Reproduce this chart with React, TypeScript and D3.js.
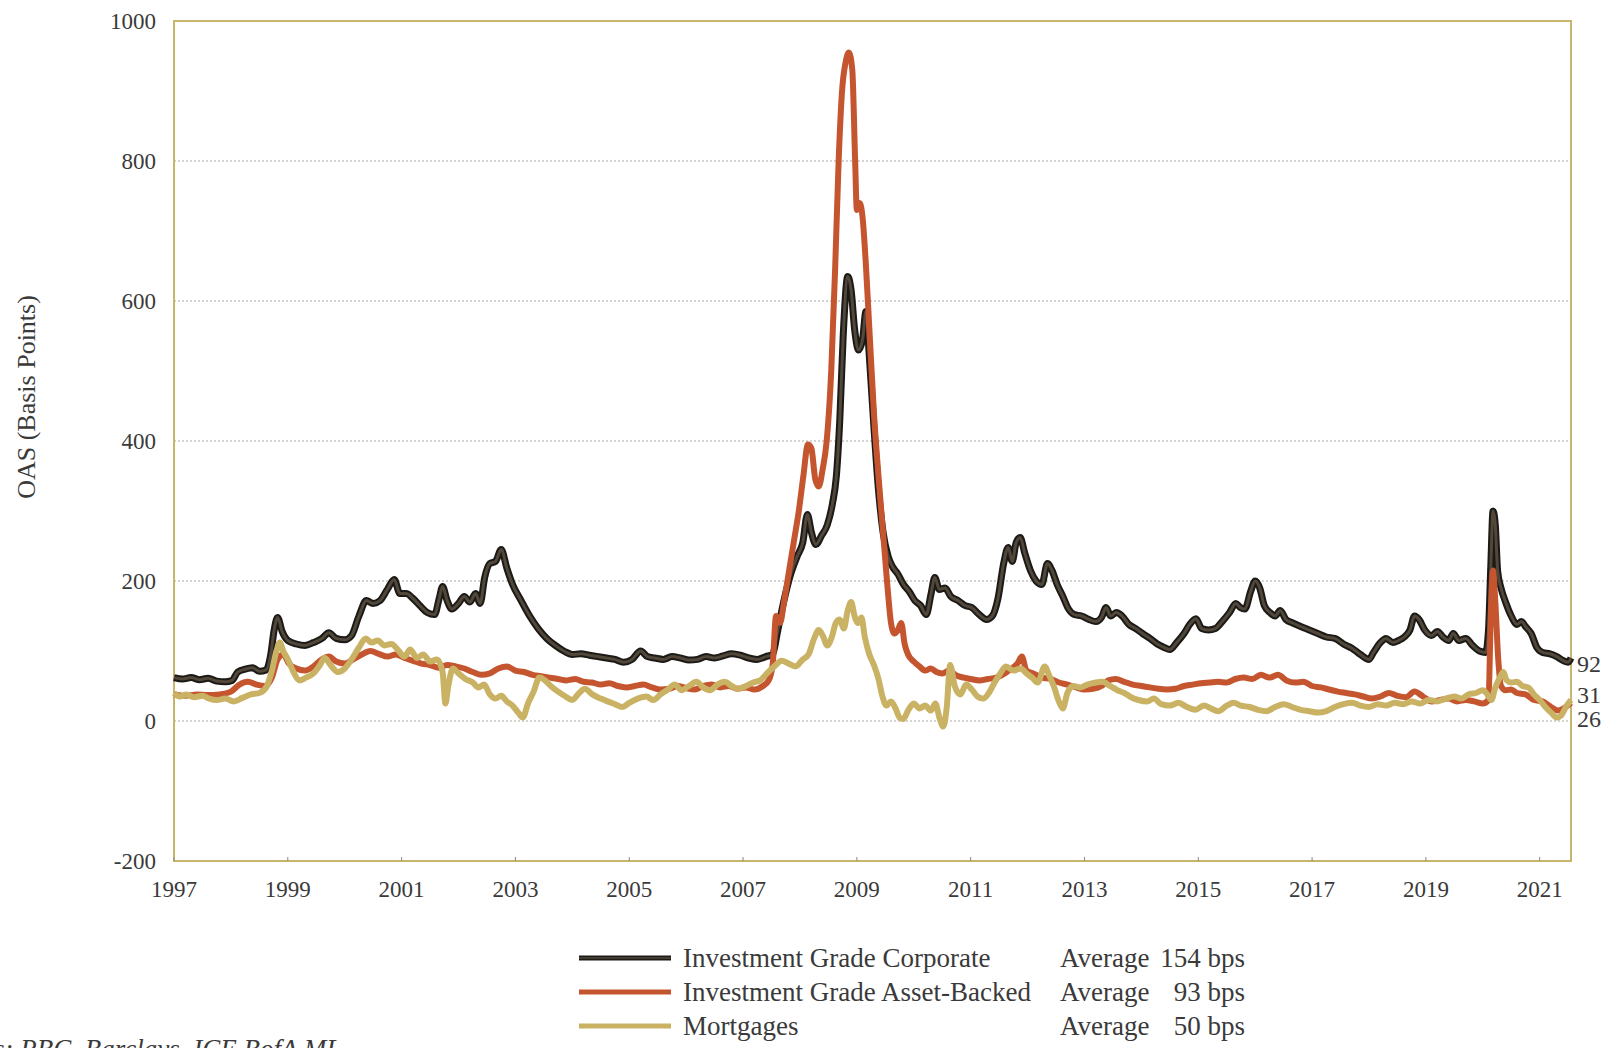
import * as d3 from 'd3';

// OAS spreads (bps), [year, value]
const corporate: [number, number][] = [
  [1997.0, 62], [1997.15, 60], [1997.3, 62], [1997.45, 59], [1997.6, 61], [1997.75, 57], [1997.9, 56],
  [1998.02, 58], [1998.12, 70], [1998.25, 74], [1998.38, 76], [1998.5, 71], [1998.62, 73], [1998.7, 95],
  [1998.76, 130], [1998.82, 148], [1998.9, 128], [1999.0, 115], [1999.15, 110], [1999.3, 108], [1999.45, 112],
  [1999.6, 118], [1999.72, 126], [1999.85, 118], [2000.0, 116], [2000.12, 122], [2000.25, 150], [2000.38, 172],
  [2000.5, 168], [2000.62, 172], [2000.75, 188], [2000.87, 202], [2000.97, 182], [2001.08, 182], [2001.2, 175],
  [2001.32, 165], [2001.45, 155], [2001.58, 152], [2001.66, 175], [2001.72, 192], [2001.8, 172], [2001.88, 160],
  [2002.0, 168], [2002.1, 178], [2002.2, 170], [2002.3, 182], [2002.38, 168], [2002.46, 205], [2002.55, 225],
  [2002.65, 228], [2002.75, 245], [2002.85, 218], [2002.95, 195], [2003.1, 172], [2003.25, 150], [2003.4, 132],
  [2003.55, 118], [2003.7, 108], [2003.85, 100], [2004.0, 95], [2004.15, 96], [2004.3, 94], [2004.45, 92],
  [2004.6, 90], [2004.75, 88], [2004.9, 84], [2005.05, 88], [2005.2, 100], [2005.32, 92], [2005.45, 90],
  [2005.6, 88], [2005.75, 92], [2005.9, 90], [2006.05, 87], [2006.2, 88], [2006.35, 92], [2006.5, 90],
  [2006.65, 93], [2006.8, 96], [2006.95, 94], [2007.1, 90], [2007.25, 88], [2007.4, 92], [2007.52, 95],
  [2007.6, 125], [2007.7, 165], [2007.82, 205], [2007.95, 235], [2008.05, 255], [2008.13, 295], [2008.2, 270],
  [2008.28, 252], [2008.38, 265], [2008.48, 280], [2008.57, 310], [2008.64, 350], [2008.7, 430], [2008.76, 550],
  [2008.84, 635], [2008.9, 615], [2008.96, 560], [2009.03, 530], [2009.1, 545], [2009.16, 585], [2009.22, 520],
  [2009.3, 420], [2009.38, 330], [2009.46, 270], [2009.55, 235], [2009.63, 220], [2009.72, 210], [2009.82, 195],
  [2009.92, 185], [2010.02, 172], [2010.12, 165], [2010.22, 152], [2010.3, 180], [2010.37, 205], [2010.45, 188],
  [2010.55, 190], [2010.65, 178], [2010.78, 172], [2010.9, 165], [2011.02, 162], [2011.15, 152], [2011.28, 145],
  [2011.38, 150], [2011.48, 175], [2011.58, 225], [2011.66, 248], [2011.73, 228], [2011.8, 255], [2011.87, 262],
  [2011.95, 240], [2012.05, 215], [2012.15, 200], [2012.25, 195], [2012.35, 225], [2012.43, 215], [2012.52, 195],
  [2012.62, 178], [2012.72, 160], [2012.82, 152], [2012.95, 150], [2013.08, 145], [2013.2, 142], [2013.3, 148],
  [2013.38, 162], [2013.46, 150], [2013.56, 155], [2013.66, 150], [2013.78, 138], [2013.9, 132], [2014.02, 125],
  [2014.15, 118], [2014.28, 110], [2014.4, 105], [2014.5, 102], [2014.62, 112], [2014.75, 125], [2014.85, 138],
  [2014.96, 146], [2015.06, 132], [2015.18, 130], [2015.3, 132], [2015.42, 142], [2015.55, 155], [2015.66, 168],
  [2015.74, 162], [2015.82, 160], [2015.92, 185], [2016.0, 200], [2016.08, 190], [2016.16, 165], [2016.26, 155],
  [2016.35, 150], [2016.44, 158], [2016.54, 145], [2016.66, 140], [2016.8, 135], [2016.95, 130], [2017.1, 125],
  [2017.25, 120], [2017.4, 118], [2017.55, 110], [2017.7, 104], [2017.85, 95], [2018.0, 88], [2018.08, 98],
  [2018.2, 112], [2018.3, 118], [2018.42, 112], [2018.52, 115], [2018.62, 120], [2018.72, 130], [2018.8, 150],
  [2018.88, 145], [2018.98, 130], [2019.1, 122], [2019.2, 128], [2019.3, 120], [2019.4, 115], [2019.48, 125],
  [2019.58, 115], [2019.7, 118], [2019.82, 108], [2019.94, 100], [2020.05, 98], [2020.1, 130], [2020.14, 220],
  [2020.18, 300], [2020.22, 280], [2020.26, 215], [2020.32, 190], [2020.4, 170], [2020.5, 150], [2020.6, 138],
  [2020.68, 142], [2020.75, 135], [2020.85, 125], [2020.95, 105], [2021.05, 98], [2021.18, 96], [2021.3, 92],
  [2021.42, 86], [2021.5, 84], [2021.55, 90],
];

const assetBacked: [number, number][] = [
  [1997.0, 38], [1997.2, 36], [1997.4, 38], [1997.6, 37], [1997.8, 38], [1998.0, 42], [1998.15, 52],
  [1998.3, 56], [1998.45, 52], [1998.6, 50], [1998.72, 62], [1998.82, 88], [1998.92, 95], [1999.02, 82],
  [1999.15, 75], [1999.3, 72], [1999.45, 78], [1999.6, 88], [1999.72, 92], [1999.85, 85], [2000.0, 82],
  [2000.15, 88], [2000.3, 95], [2000.45, 100], [2000.6, 96], [2000.75, 92], [2000.9, 95], [2001.05, 90],
  [2001.2, 86], [2001.35, 82], [2001.5, 80], [2001.65, 76], [2001.8, 80], [2001.95, 78], [2002.1, 75],
  [2002.25, 70], [2002.4, 66], [2002.55, 68], [2002.7, 75], [2002.85, 78], [2003.0, 72], [2003.15, 70],
  [2003.3, 66], [2003.45, 64], [2003.6, 62], [2003.75, 60], [2003.9, 58], [2004.05, 60], [2004.2, 56],
  [2004.35, 55], [2004.5, 52], [2004.65, 54], [2004.8, 50], [2004.95, 48], [2005.1, 50], [2005.25, 52],
  [2005.4, 48], [2005.55, 45], [2005.7, 46], [2005.85, 50], [2006.0, 47], [2006.15, 45], [2006.3, 50],
  [2006.45, 52], [2006.6, 48], [2006.75, 50], [2006.9, 46], [2007.05, 48], [2007.2, 45], [2007.35, 50],
  [2007.45, 58], [2007.52, 80], [2007.58, 150], [2007.65, 140], [2007.72, 170], [2007.8, 210], [2007.9, 260],
  [2007.98, 300], [2008.06, 350], [2008.14, 395], [2008.2, 390], [2008.27, 345], [2008.33, 335], [2008.4, 360],
  [2008.47, 400], [2008.55, 500], [2008.62, 650], [2008.68, 800], [2008.74, 900], [2008.8, 940], [2008.86, 955],
  [2008.92, 930], [2008.97, 800], [2009.0, 730], [2009.05, 740], [2009.1, 720], [2009.16, 650], [2009.22, 560],
  [2009.3, 440], [2009.38, 350], [2009.46, 270], [2009.54, 190], [2009.6, 140], [2009.66, 125], [2009.72, 130],
  [2009.78, 140], [2009.84, 110], [2009.9, 95], [2010.0, 85], [2010.1, 78], [2010.2, 72], [2010.3, 75],
  [2010.4, 70], [2010.5, 68], [2010.62, 72], [2010.75, 65], [2010.88, 62], [2011.0, 60], [2011.15, 58],
  [2011.3, 60], [2011.45, 62], [2011.6, 68], [2011.72, 75], [2011.82, 82], [2011.9, 92], [2011.98, 72],
  [2012.1, 68], [2012.25, 62], [2012.4, 60], [2012.55, 55], [2012.7, 52], [2012.85, 48], [2013.0, 45],
  [2013.15, 46], [2013.3, 50], [2013.42, 58], [2013.55, 60], [2013.7, 56], [2013.85, 52], [2014.0, 50],
  [2014.15, 48], [2014.3, 46], [2014.45, 45], [2014.6, 46], [2014.75, 50], [2014.9, 52], [2015.05, 54],
  [2015.2, 55], [2015.35, 56], [2015.5, 55], [2015.65, 60], [2015.8, 62], [2015.95, 60], [2016.1, 66],
  [2016.25, 62], [2016.4, 66], [2016.55, 58], [2016.7, 55], [2016.85, 56], [2017.0, 50], [2017.15, 48],
  [2017.3, 45], [2017.45, 42], [2017.6, 40], [2017.75, 38], [2017.9, 35], [2018.05, 32], [2018.2, 35],
  [2018.35, 40], [2018.5, 36], [2018.65, 34], [2018.8, 42], [2018.95, 35], [2019.1, 28], [2019.25, 30],
  [2019.4, 32], [2019.55, 28], [2019.7, 30], [2019.85, 28], [2020.0, 25], [2020.1, 30], [2020.14, 150],
  [2020.18, 215], [2020.22, 170], [2020.27, 90], [2020.32, 50], [2020.4, 44], [2020.5, 45], [2020.6, 40],
  [2020.75, 38], [2020.9, 30], [2021.05, 28], [2021.2, 20], [2021.32, 15], [2021.42, 18], [2021.55, 26],
];

const mortgages: [number, number][] = [
  [1997.0, 40], [1997.1, 35], [1997.22, 38], [1997.35, 34], [1997.5, 36], [1997.62, 32], [1997.75, 30],
  [1997.9, 32], [1998.05, 28], [1998.2, 33], [1998.35, 38], [1998.5, 40], [1998.62, 48], [1998.72, 72],
  [1998.8, 100], [1998.86, 112], [1998.92, 100], [1999.0, 88], [1999.1, 70], [1999.2, 58], [1999.32, 62],
  [1999.45, 68], [1999.55, 78], [1999.65, 90], [1999.75, 80], [1999.88, 70], [2000.0, 75], [2000.12, 88],
  [2000.25, 105], [2000.37, 118], [2000.47, 112], [2000.58, 115], [2000.7, 108], [2000.82, 110], [2000.95, 100],
  [2001.05, 92], [2001.15, 102], [2001.27, 90], [2001.38, 95], [2001.5, 85], [2001.62, 88], [2001.72, 70],
  [2001.77, 25], [2001.82, 50], [2001.9, 75], [2002.0, 68], [2002.12, 60], [2002.25, 55], [2002.35, 48],
  [2002.45, 52], [2002.55, 38], [2002.65, 32], [2002.75, 36], [2002.85, 28], [2002.95, 22], [2003.05, 12],
  [2003.13, 5], [2003.22, 25], [2003.32, 42], [2003.42, 62], [2003.52, 58], [2003.62, 50], [2003.75, 42],
  [2003.88, 35], [2004.0, 30], [2004.12, 40], [2004.22, 46], [2004.35, 38], [2004.5, 32], [2004.62, 28],
  [2004.75, 24], [2004.88, 20], [2005.0, 26], [2005.15, 32], [2005.3, 35], [2005.42, 30], [2005.55, 38],
  [2005.68, 45], [2005.8, 52], [2005.92, 44], [2006.05, 50], [2006.18, 56], [2006.3, 48], [2006.42, 44],
  [2006.55, 52], [2006.68, 56], [2006.8, 50], [2006.92, 46], [2007.05, 50], [2007.18, 55], [2007.3, 58],
  [2007.42, 68], [2007.55, 78], [2007.68, 86], [2007.8, 82], [2007.92, 78], [2008.05, 88], [2008.15, 95],
  [2008.25, 118], [2008.33, 130], [2008.4, 122], [2008.48, 108], [2008.56, 120], [2008.63, 140], [2008.7, 145],
  [2008.77, 132], [2008.84, 158], [2008.9, 170], [2008.96, 150], [2009.02, 140], [2009.08, 148], [2009.14, 120],
  [2009.22, 95], [2009.3, 80], [2009.38, 60], [2009.45, 35], [2009.52, 22], [2009.6, 28], [2009.68, 18],
  [2009.75, 5], [2009.82, 3], [2009.9, 15], [2010.0, 25], [2010.1, 18], [2010.2, 22], [2010.3, 15],
  [2010.38, 25], [2010.45, 5], [2010.52, -8], [2010.58, 20], [2010.64, 80], [2010.72, 50], [2010.82, 38],
  [2010.92, 52], [2011.02, 45], [2011.12, 35], [2011.22, 32], [2011.32, 40], [2011.42, 55], [2011.52, 68],
  [2011.62, 78], [2011.75, 72], [2011.88, 75], [2011.98, 68], [2012.08, 62], [2012.18, 55], [2012.3, 78],
  [2012.38, 65], [2012.46, 50], [2012.55, 28], [2012.62, 18], [2012.7, 40], [2012.8, 50], [2012.92, 48],
  [2013.05, 52], [2013.2, 55], [2013.32, 56], [2013.45, 50], [2013.58, 44], [2013.7, 40], [2013.82, 34],
  [2013.95, 30], [2014.1, 28], [2014.22, 32], [2014.35, 24], [2014.5, 22], [2014.65, 26], [2014.8, 20],
  [2014.95, 16], [2015.1, 22], [2015.22, 18], [2015.35, 14], [2015.5, 22], [2015.62, 26], [2015.75, 22],
  [2015.9, 20], [2016.05, 16], [2016.2, 14], [2016.35, 20], [2016.5, 24], [2016.65, 20], [2016.8, 16],
  [2016.95, 14], [2017.1, 12], [2017.25, 14], [2017.4, 20], [2017.55, 24], [2017.7, 26], [2017.85, 22],
  [2018.0, 20], [2018.15, 24], [2018.3, 22], [2018.45, 26], [2018.6, 24], [2018.75, 28], [2018.9, 25],
  [2019.05, 30], [2019.2, 28], [2019.35, 32], [2019.5, 35], [2019.62, 32], [2019.75, 38], [2019.88, 40],
  [2020.0, 44], [2020.08, 38], [2020.15, 30], [2020.22, 48], [2020.3, 62], [2020.36, 70], [2020.42, 58],
  [2020.5, 55], [2020.6, 56], [2020.7, 50], [2020.8, 48], [2020.9, 38], [2021.0, 30], [2021.1, 20],
  [2021.2, 12], [2021.3, 5], [2021.38, 8], [2021.46, 20], [2021.55, 30],
];

const yTicks = [-200, 0, 200, 400, 600, 800, 1000];
const xTicks = [1997, 1999, 2001, 2003, 2005, 2007, 2009, 2011, 2013, 2015, 2017, 2019, 2021];
const gridValues = [0, 200, 400, 600, 800];

const legendNames = ['Investment Grade Corporate', 'Investment Grade Asset-Backed', 'Mortgages'];
const legendAverages = [154, 93, 50];
const endLabels = [92, 31, 26];

const FONT = '"Liberation Serif", "DejaVu Serif", serif';
const TEXT = '#3a3a3a';
const FRAME = '#c9b46c';
const CORP_OUTER = '#1c1a16';
const CORP_INNER = '#51473a';
const ABS_COLOR = '#c4552f';
const MORT_COLOR = '#c9b264';

export default function App() {
  const width = 1606;
  const height = 1048;
  const left = 174;
  const right = 1571;
  const top = 21;
  const bottom = 861;

  const x = d3.scaleLinear().domain([1997, 2021.55]).range([left, right]);
  const y = d3.scaleLinear().domain([-200, 1000]).range([bottom, top]);

  const line = d3
    .line<[number, number]>()
    .x((d) => x(d[0]))
    .y((d) => y(d[1]))
    .curve(d3.curveMonotoneX);

  // end labels, pushed apart so they do not overlap
  const labelY: number[] = [];
  endLabels.forEach((v, i) => {
    const base = y(v) + (i === 0 ? 15 : 4);
    labelY.push(i === 0 ? base : Math.max(base, labelY[i - 1] + 24));
  });

  const legendRows = [
    { color: CORP_OUTER, inner: CORP_INNER },
    { color: ABS_COLOR, inner: null },
    { color: MORT_COLOR, inner: null },
  ];

  return (
    <svg
      width={width}
      height={height}
      style={{ position: 'absolute', left: 0, top: 0, background: '#fff' }}
      fontFamily={FONT}
    >
      {gridValues.map((v) => (
        <line
          key={v}
          x1={left}
          x2={right}
          y1={y(v)}
          y2={y(v)}
          stroke="#a8a8a0"
          strokeWidth={1}
          strokeDasharray="2,2"
        />
      ))}

      <rect x={left} y={top} width={right - left} height={bottom - top} fill="none" stroke={FRAME} strokeWidth={2} />

      {yTicks.map((v) => (
        <text key={v} x={156} y={y(v) + 8} textAnchor="end" fontSize={23} fill={TEXT}>
          {v}
        </text>
      ))}
      {xTicks.map((t) => (
        <g key={t}>
          <line x1={x(t)} x2={x(t)} y1={bottom} y2={bottom - 4} stroke="#888" strokeWidth={1} />
          <text x={x(t)} y={897} textAnchor="middle" fontSize={23} fill={TEXT}>
            {t}
          </text>
        </g>
      ))}

      <text transform={`translate(35,397) rotate(-90)`} textAnchor="middle" fontSize={26} fill={TEXT}>
        OAS (Basis Points)
      </text>

      <path d={line(corporate)!} fill="none" stroke={CORP_OUTER} strokeWidth={7} strokeLinejoin="round" />
      <path d={line(corporate)!} fill="none" stroke={CORP_INNER} strokeWidth={3} strokeLinejoin="round" />
      <path d={line(assetBacked)!} fill="none" stroke={ABS_COLOR} strokeWidth={6} strokeLinejoin="round" />
      <path d={line(mortgages)!} fill="none" stroke={MORT_COLOR} strokeWidth={6} strokeLinejoin="round" />

      {endLabels.map((v, i) => (
        <text key={i} x={1577} y={labelY[i]} fontSize={24} fill={TEXT}>
          {v}
        </text>
      ))}

      {legendNames.map((name, i) => {
        const ly = 958 + i * 34;
        const row = legendRows[i];
        return (
          <g key={name}>
            <line x1={579} x2={671} y1={ly} y2={ly} stroke={row.color} strokeWidth={5} />
            {row.inner && <line x1={579} x2={671} y1={ly} y2={ly} stroke={row.inner} strokeWidth={1.5} />}
            <text x={683} y={ly + 9} fontSize={27} fill={TEXT}>
              {name}
            </text>
            <text x={1060} y={ly + 9} fontSize={27} fill={TEXT}>
              Average
            </text>
            <text x={1245} y={ly + 9} fontSize={27} fill={TEXT} textAnchor="end">
              {legendAverages[i]} bps
            </text>
          </g>
        );
      })}

      <text x={-80} y={1058} fontSize={27} fontStyle="italic" fill={TEXT}>
        Sources: RBC, Barclays, ICE BofA ML
      </text>
    </svg>
  );
}
